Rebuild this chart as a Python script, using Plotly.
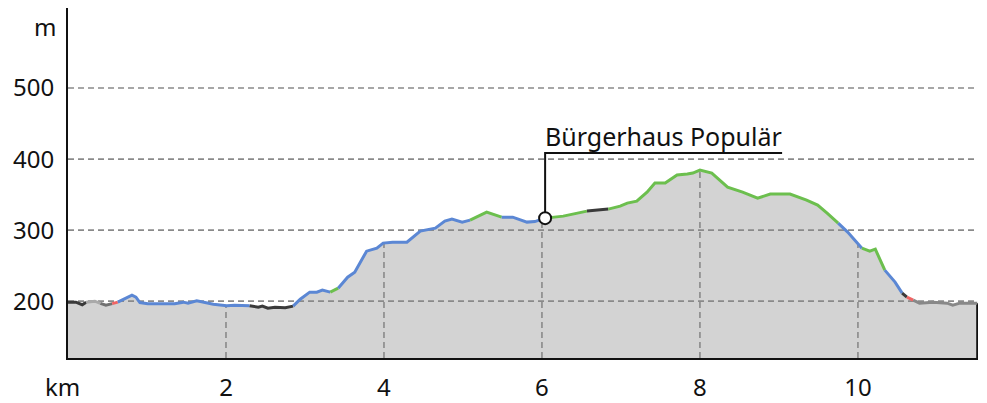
import numpy as np
import plotly.graph_objects as go

# ---- data: elevation profile ----
dist_km = [0.00, 0.10, 0.18, 0.23, 0.34, 0.41, 0.48, 0.56, 0.63, 0.72,
           0.81, 0.86, 0.91, 1.01, 1.16, 1.35, 1.46, 1.52, 1.63, 1.73,
           1.84, 2.01, 2.11, 2.30, 2.41, 2.46, 2.53, 2.62, 2.75, 2.85,
           2.94, 3.06, 3.15, 3.22, 3.32, 3.42, 3.54, 3.63, 3.78, 3.91,
           3.99, 4.11, 4.29, 4.46, 4.54, 4.65, 4.77, 4.86, 4.99, 5.09,
           5.30, 5.49, 5.63, 5.81, 5.91, 6.04, 6.27, 6.57, 6.84, 6.99,
           7.08, 7.20, 7.33, 7.43, 7.56, 7.71, 7.84, 7.91, 8.00, 8.15,
           8.25, 8.35, 8.54, 8.73, 8.89, 9.04, 9.14, 9.35, 9.49, 9.61,
           9.75, 9.87, 10.05, 10.15, 10.22, 10.34, 10.47, 10.56, 10.62, 10.70,
           10.78, 10.95, 11.13, 11.20, 11.29, 11.51]
elev_m = [198.6, 198.6, 195.0, 198.6, 200.0, 197.0, 194.4, 196.5, 198.6, 203.0,
          208.5, 205.6, 198.0, 196.5, 196.5, 196.5, 198.6, 197.0, 200.4, 198.0,
          195.8, 193.4, 194.4, 193.7, 191.5, 193.0, 190.0, 191.5, 190.8, 193.0,
          202.8, 212.7, 212.7, 215.5, 212.7, 218.3, 233.8, 240.8, 270.4, 274.6,
          281.7, 283.1, 283.1, 298.6, 300.0, 302.8, 312.7, 315.5, 311.3, 314.1,
          325.4, 318.3, 318.3, 311.3, 312.0, 316.9, 319.7, 326.8, 329.6, 333.8,
          338.0, 340.8, 353.5, 366.2, 366.2, 377.5, 378.9, 380.3, 384.5, 380.3,
          370.4, 360.6, 353.5, 345.1, 350.7, 350.7, 350.7, 342.3, 335.2, 323.9,
          309.9, 297.2, 274.6, 270.4, 273.2, 243.7, 226.8, 211.3, 205.6, 201.4,
          197.2, 198.6, 197.2, 194.4, 197.2, 197.2]

# colour segments along the route: start km and colour
seg_start_km = [0.00, 0.23, 0.41, 0.56, 0.63, 2.30, 2.85, 3.32, 3.42, 5.09,
                5.49, 6.04, 6.57, 6.84, 9.75, 10.05, 10.34, 10.56, 10.62, 10.70]
seg_color = ["#3a3a3a", "#aaaaaa", "#707070", "#f06464", "#5b87d4", "#3a3a3a",
             "#5b87d4", "#6cbf4e", "#5b87d4", "#6cbf4e", "#5b87d4", "#6cbf4e",
             "#3a3a3a", "#6cbf4e", "#5b87d4", "#6cbf4e", "#5b87d4", "#3a3a3a",
             "#f06464", "#888888"]

y_ticks = [200, 300, 400, 500]
x_ticks = [2, 4, 6, 8, 10]
x_tick_text = ["2", "4", "6", "8", "10"]

poi_name = "Bürgerhaus Populär"
poi_km = 6.04
poi_elev = 316.9
poi_label_elev = 408.5
poi_label_end_km = 9.04

x_max = 11.52
y_min, y_max = 120, 612.7

FONT = "Noto Sans"
GRID = "#8a8a8a"

d = np.array(dist_km)
e = np.array(elev_m)

fig = go.Figure()

# filled area
fig.add_trace(go.Scatter(x=dist_km, y=elev_m, mode="lines", line=dict(width=0),
                         fill="tozeroy", fillcolor="#d3d3d3", hoverinfo="skip",
                         showlegend=False))

# horizontal grid lines (above the fill)
for yv in y_ticks:
    fig.add_trace(go.Scatter(x=[0, x_max], y=[yv, yv], mode="lines",
                             line=dict(color=GRID, width=1.6, dash="6px,4px"),
                             hoverinfo="skip", showlegend=False))
# vertical grid lines up to the profile
for xv in x_ticks:
    fig.add_trace(go.Scatter(x=[xv, xv], y=[y_min, float(np.interp(xv, d, e))],
                             mode="lines",
                             line=dict(color=GRID, width=1.6, dash="6px,4px"),
                             hoverinfo="skip", showlegend=False))

# right closing line
fig.add_trace(go.Scatter(x=[dist_km[-1], dist_km[-1]], y=[y_min, elev_m[-1]],
                         mode="lines", line=dict(color="#111111", width=2),
                         hoverinfo="skip", showlegend=False))

# coloured profile segments
bounds = seg_start_km + [dist_km[-1] + 1]
for i, col in enumerate(seg_color):
    a, b = bounds[i], bounds[i + 1]
    mask = (d >= a - 1e-9) & (d <= b + 1e-9)
    fig.add_trace(go.Scatter(x=d[mask], y=e[mask], mode="lines",
                             line=dict(color=col, width=3),
                             hoverinfo="skip", showlegend=False))

# point of interest
fig.add_trace(go.Scatter(x=[poi_km, poi_km, poi_label_end_km],
                         y=[poi_elev, poi_label_elev, poi_label_elev],
                         mode="lines", line=dict(color="#111111", width=2),
                         hoverinfo="skip", showlegend=False))
fig.add_trace(go.Scatter(x=[poi_km], y=[poi_elev], mode="markers",
                         marker=dict(size=12, color="white",
                                     line=dict(color="#111111", width=2)),
                         hoverinfo="skip", showlegend=False))
fig.add_annotation(x=poi_km, y=poi_label_elev, text=poi_name, showarrow=False,
                   xanchor="left", yanchor="bottom", xshift=-2, yshift=-2,
                   font=dict(family=FONT, size=25, color="#111111"))

# unit labels
fig.add_annotation(x=0, y=0, xref="x", yref="paper", text="km", showarrow=False,
                   xanchor="center", yanchor="middle", xshift=-6, yshift=-28,
                   font=dict(family=FONT, size=24, color="#111111"))
fig.add_annotation(x=0, y=587, xref="paper", yref="y", text="m", showarrow=False,
                   xanchor="right", yanchor="middle", xshift=-10,
                   font=dict(family=FONT, size=24, color="#111111"))

# the page body adds an 8px offset, so the figure is sized to fit the window
fig.update_layout(
    width=979, height=395,
    margin=dict(l=60, r=9, t=0, b=45, autoexpand=False),
    paper_bgcolor="white", plot_bgcolor="white",
    showlegend=False,
    xaxis=dict(range=[0, x_max], tickvals=x_ticks, ticktext=x_tick_text,
               showgrid=False, zeroline=False, showline=True, linecolor="#111111",
               linewidth=2, ticks="", ticklabelstandoff=7, automargin=False,
               tickfont=dict(family=FONT, size=24, color="#111111")),
    yaxis=dict(range=[y_min, y_max], tickvals=y_ticks, showgrid=False,
               zeroline=False, showline=True, linecolor="#111111", linewidth=2,
               ticks="", ticklabelstandoff=7, automargin=False,
               tickfont=dict(family=FONT, size=24, color="#111111")),
)

fig.write_html("out.html")
